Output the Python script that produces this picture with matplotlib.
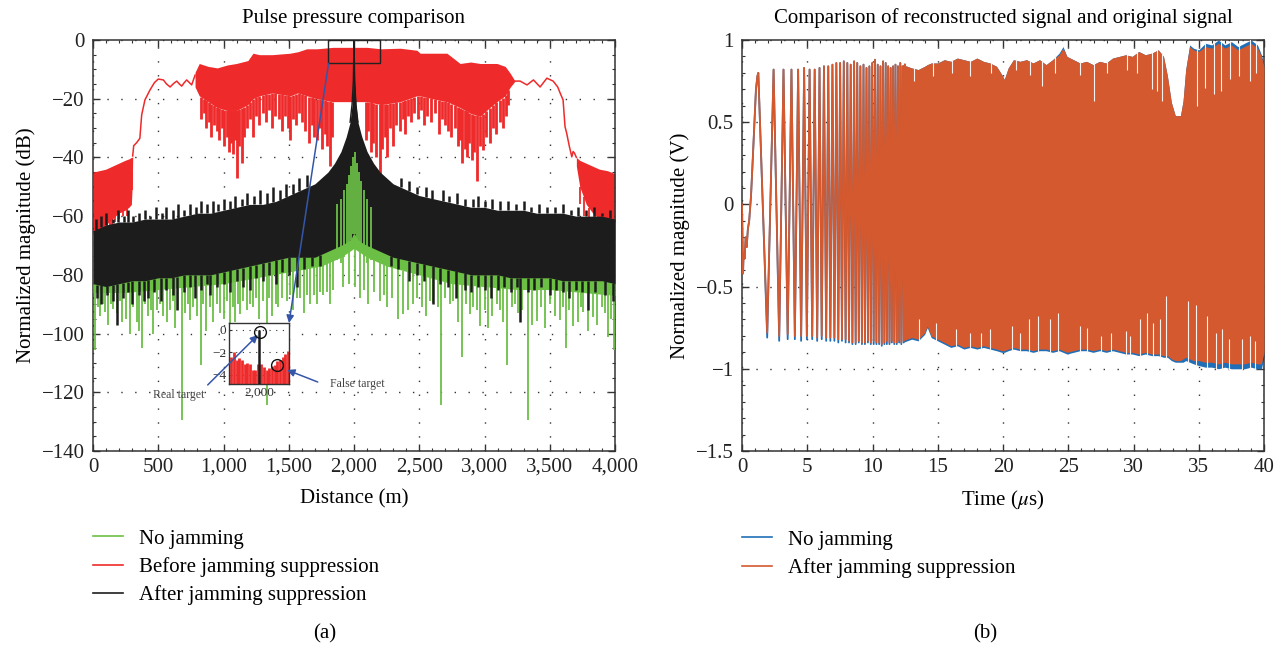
import numpy as np
import matplotlib
matplotlib.use("Agg")
import matplotlib.pyplot as plt
from matplotlib.lines import Line2D
from matplotlib.patches import Rectangle
from matplotlib.ticker import MultipleLocator, FuncFormatter

plt.rcParams['font.family'] = ['Liberation Serif', 'DejaVu Serif']
plt.rcParams['mathtext.fontset'] = 'stix'
plt.rcParams['font.size'] = 15

GREEN = '#6cbf45'
RED = '#ee2a2a'
BLACK = '#1c1c1c'
BLUE = '#1f6fb8'
ORANGE = '#d4592e'
ARROW = '#3556a8'
FRAME = '#333333'

# ---------------- (a) pulse compression, distance in m, magnitude in dB
# before suppression: left skirt band, rising edge, main band, falling edge, right skirt band
red_left_x = [0, 49, 98, 147, 196, 245, 275, 294, 300, 304]
red_left_hi = [-45, -44.5, -44, -43, -42, -41, -40.5, -40, -40, -39.5]
red_left_lo = [-65, -64, -63, -61, -59, -58, -57, -56, -50, -41]
red_left_dn_x = [12, 20, 39, 55, 69, 88, 108, 128, 147, 170, 200, 230, 260, 299]
red_left_dn_y = [-72, -78, -70, -69, -68, -67, -66, -65, -63, -62, -61, -60, -60, -45]

red_rise_x = [304, 312, 334, 359, 373, 398, 437, 471, 500, 539, 564, 591, 618, 642,
              662, 680, 698, 718, 738, 756, 782]
red_rise_y = [-39.5, -36, -35, -33.5, -25.5, -20.4, -17, -14.5, -13.3, -13.6, -15, -16,
              -14.8, -14, -15, -15.7, -14.6, -13.6, -14.5, -15.3, -12]

red_x = [782, 814, 883, 952, 1030, 1099, 1187, 1226, 1275, 1373, 1511, 1570, 1638, 1717,
         1839, 1962, 2099, 2207, 2354, 2482, 2507, 2600, 2712, 2813, 2894, 2966, 3041,
         3095, 3159, 3198, 3234]
red_hi = [-11, -8, -9, -9.5, -8.5, -8, -7, -4.5, -5, -5, -4.5, -4, -3, -3, -2.5, -2.5,
          -2.5, -3, -2.8, -3.5, -4.5, -4.5, -4.5, -8, -7.5, -8, -8, -8, -9, -11.4, -14]
red_lo = [-16, -19, -21, -23, -24, -24, -22, -20, -19, -18, -19, -18, -19, -20, -21, -21,
          -21, -22, -21, -19, -19, -20, -21, -23, -25, -26, -23, -21, -19, -16, -14]
red_dn_x = [828, 848, 868, 888, 907, 927, 947, 966, 986, 1006, 1025, 1040, 1055, 1069,
            1089, 1104, 1118, 1138, 1158, 1177, 1202, 1226, 1251, 1275, 1300, 1324, 1349,
            1373, 1398, 1422, 1447, 1471, 1496, 1511, 1530, 1555, 1579, 1604, 1628, 1658,
            1677, 1697, 1717, 1736, 1756, 1776, 1795, 1815, 1835, 2090, 2109, 2129, 2148,
            2168, 2199, 2217, 2236, 2256, 2276, 2300, 2325, 2349, 2374, 2391, 2413, 2438,
            2462, 2487, 2511, 2536, 2560, 2590, 2619, 2649, 2673, 2698, 2722, 2747, 2771,
            2796, 2815, 2828, 2850, 2865, 2884, 2904, 2923, 2943, 2963, 2989, 3012, 3041,
            3066, 3090, 3115, 3139, 3164, 3183]
red_dn_y = [-27, -25, -30, -28, -33, -29, -31, -34, -30, -36, -33, -38, -35, -39, -34, -47,
            -36, -42, -33, -30, -27, -33, -26, -29, -25, -28, -24, -30, -26, -27, -31, -26,
            -30, -34, -27, -29, -25, -28, -31, -35, -29, -33, -34, -30, -37, -32, -36, -43,
            -33, -34, -31, -38, -35, -40, -46.5, -37, -33, -40, -30, -36, -29, -31, -27,
            -32, -26, -28, -25, -27, -24, -29, -26, -28, -25, -32, -27, -29, -31, -33, -30,
            -36, -34, -42, -37, -40, -35, -41, -38, -48, -36, -37.5, -33, -35, -30, -32,
            -28, -30, -26, -22]

red_fall_x = [3234, 3273, 3326, 3375, 3426, 3478, 3526, 3561, 3579, 3602, 3617, 3630, 3649,
              3669, 3679, 3689, 3704]
red_fall_y = [-14, -14, -15.3, -13.6, -16, -13, -14, -16, -18, -20.4, -29.5, -31.8, -36,
              -39.8, -38, -38.5, -40]

red_right_x = [3704, 3730, 3780, 3830, 3880, 3940, 4000]
red_right_hi = [-40, -41, -42, -43, -44, -44.5, -45.5]
red_right_lo = [-43, -50, -56, -59, -61, -63, -68]
red_right_dn_x = [3730, 3760, 3800, 3850, 3900, 3960, 3990]
red_right_dn_y = [-56, -60, -64, -65, -66, -70, -72]

# no jamming
green_x = [0, 250, 500, 750, 1000, 1250, 1500, 1750, 1900, 2000, 2100, 2250, 2500, 2750,
           3000, 3250, 3500, 3750, 4000]
green_hi = [-66, -63, -62, -61, -59, -57, -54, -48, -42, -40, -42, -48, -54, -56, -58, -59,
            -60, -61, -62]
green_lo = [-86, -86, -85, -84, -83, -81, -79, -77, -74, -71, -74, -77, -80, -83, -84, -85,
            -85, -86, -87]
green_dn_x = [16, 35, 54, 75, 92, 118, 140, 156, 186, 205, 220, 255, 284, 310, 335, 353, 378,
              400, 424, 445, 462, 491, 515, 539, 569, 591, 610, 628, 655, 680, 706, 725, 744,
              770, 795, 825, 845, 863, 900, 922, 950, 973, 1001, 1025, 1050, 1070, 1089,
              1110, 1126, 1150, 1177, 1200, 1229, 1250, 1275, 1300, 1331, 1350, 1373, 1400,
              1420, 1450, 1484, 1510, 1530, 1560, 1586, 1619, 1640, 1663, 1690, 1717, 1740,
              1766, 1790, 1815, 1840, 1913, 1960, 2011, 2046, 2080, 2109, 2150, 2199, 2230,
              2256, 2290, 2335, 2378, 2413, 2455, 2481, 2520, 2551, 2580, 2608, 2640, 2667,
              2700, 2736, 2760, 2796, 2830, 2860, 2889, 2915, 2943, 2966, 3000, 3029, 3061,
              3094, 3120, 3139, 3175, 3210, 3234, 3260, 3286, 3331, 3365, 3400, 3430, 3463,
              3502, 3541, 3579, 3600, 3623, 3650, 3681, 3718, 3740, 3758, 3796, 3835, 3865,
              3900, 3925, 3946, 3970, 3990]
green_dn_y = [-105.6, -91, -94, -90, -92.5, -97, -90, -91.5, -93, -89,
              -96, -95, -100, -91, -96, -99, -105, -90, -94, -92,
              -100, -92, -90, -94, -96, -92, -89, -98, -92, -129.5,
              -93, -90, -95.5, -91, -94, -110.7, -90, -99, -91, -96,
              -90, -93, -95, -89, -97.5, -91, -96, -90, -93.5, -89,
              -92, -90, -91, -88, -95, -89, -124.3, -88, -94, -90,
              -91, -88, -89, -87, -92, -88, -88, -93, -87, -90,
              -87, -90, -86, -87, -86, -90, -85, -84, -83, -84,
              -88, -85, -90, -86, -89, -87, -91, -88, -95, -93.4,
              -92, -90, -88, -91, -94, -89, -89.7, -91, -124.3, -88,
              -90, -89, -96, -108, -90, -93.4, -91, -92, -97.5, -92,
              -98, -94, -90, -92, -96, -110.7, -91, -90, -93, -92,
              -129.4, -97, -95.7, -91, -98, -90, -94, -95.4, -91, -104.8,
              -92, -97.5, -96, -91, -92.5, -99, -94.2, -97, -91, -93,
              -101, -95, -105.6]
green_ctr_x = [1870, 1900, 1925, 1950, 1965, 1980, 1990, 2010, 2020, 2035, 2050, 2075, 2100,
               2130]
green_ctr_top = [-56, -54, -51, -49, -46, -43, -40, -38, -42, -45, -48, -51, -54, -57]
green_ctr_bot = [-75, -76, -74, -72, -70, -68, -66, -66, -68, -70, -72, -74, -76, -75]

# after suppression
black_x = [0, 100, 200, 300, 400, 500, 600, 700, 800, 900, 1000, 1100, 1200, 1300, 1400,
           1500, 1600, 1700, 1750, 1800, 1850, 1900, 1940, 1970, 1985, 1995, 2000, 2005,
           2015, 2030, 2060, 2100, 2150, 2200, 2250, 2300, 2400, 2500, 2600, 2700, 2800,
           2900, 3000, 3100, 3200, 3300, 3400, 3500, 3600, 3700, 3800, 3900, 4000]
black_hi = [-65, -63, -62, -62, -61, -61, -61, -60, -59, -59, -58, -57, -56, -56, -55, -53,
            -51, -49, -47, -45, -42, -38, -33, -28, -22, -14, 0, -14, -22, -28, -33, -38,
            -42, -45, -47, -49, -51, -53, -54, -55, -56, -57, -57, -58, -58, -58, -59, -59,
            -59, -60, -60, -60, -61]
black_lo = [-83, -84, -83, -82, -82, -81, -81, -80, -80, -80, -79, -78, -77, -76, -75, -74,
            -74, -74, -73, -72, -71, -70, -69, -68, -67, -66, -66, -66, -67, -68, -69, -70,
            -71, -72, -73, -74, -75, -76, -77, -78, -79, -80, -80, -80, -81, -81, -81, -81,
            -82, -82, -82, -82, -83]
black_up_x = [20, 60, 100, 150, 190, 240, 265, 310, 350, 400, 440, 480, 530, 560, 610, 650,
              700, 740, 790, 830, 870, 920, 960, 1000, 1050, 1090, 1140, 1180, 1230, 1280,
              1330, 1380, 1430, 1480, 1530, 1580, 1640, 2360, 2420, 2480, 2550, 2600, 2680,
              2730, 2790, 2850, 2910, 2950, 3000, 3060, 3120, 3180, 3240, 3300, 3360, 3420,
              3480, 3540, 3600, 3660, 3720, 3780, 3840, 3900, 3960]
black_up_y = [-61, -60, -59, -61, -58, -60, -58, -60, -59, -58, -60, -57, -59, -57, -58, -56,
              -58, -56, -57, -55, -56, -55, -56, -54, -55, -53, -54, -52, -53, -51, -52, -50,
              -51, -49, -49, -47, -46, -47, -48, -50, -50, -51, -51, -53, -52, -54, -54, -53,
              -55, -54, -55, -55, -56, -55, -57, -56, -57, -57, -56, -58, -57, -58, -57, -59,
              -58]
black_dn_x = [30, 60, 110, 150, 181, 230, 270, 300, 350, 390, 420, 470, 520, 560, 610, 642,
              700, 740, 780, 830, 870, 900, 950, 1000, 1050, 1100, 1150, 1200, 1250, 1300,
              1350, 1400, 1450, 1500, 1560, 1620, 1680, 1740, 2280, 2340, 2420, 2480, 2540,
              2608, 2660, 2720, 2780, 2850, 2900, 2950, 3000, 3049, 3100, 3150, 3200, 3250,
              3273, 3330, 3380, 3430, 3500, 3550, 3600, 3650, 3700, 3750, 3796, 3850, 3920,
              3985]
black_dn_y = [-88, -90, -87, -89, -97, -88, -86, -90, -87, -89, -88, -86, -89, -85, -87, -92,
              -86, -84, -88, -85, -83, -87, -84, -83, -86, -82, -84, -85, -81, -82, -80, -83,
              -79, -80, -84, -78, -77, -77, -77, -78, -82, -80, -82, -90, -83, -84, -88, -85,
              -86, -84, -85, -88, -85, -84, -86, -84, -96, -86, -85, -84, -87, -85, -86, -88,
              -85, -86, -92, -86, -87, -89]

# zoomed view around the target
inset_x = [1813, 1833, 1851, 1869, 1887, 1904, 1922, 1940, 1958, 1976, 1993, 2016, 2033,
           2051, 2069, 2087, 2104, 2122, 2140, 2158, 2176, 2193]
inset_v = [-2.4, -2.0, -2.7, -2.5, -2.7, -3.0, -2.9, -3.0, -3.55, -3.55, -3.0, -3.0, -3.3,
           -3.55, -3.4, -3.2, -3.1, -2.8, -2.7, -2.4, -2.1, -1.9]
inset_peak_x = [2000]
inset_peak_v = [0]
target_x = [2007, 2118]
target_v = [-0.17, -3.12]

# ---------------- (b) time signal, t in us, amplitude in V
start_t = [0.0, 0.08, 0.12, 0.2, 0.28, 0.36, 0.45, 0.55, 0.69, 0.81, 1.07, 1.18]
start_v = [0.0, -0.42, -0.3, -0.33, -0.2, -0.26, -0.15, -0.1, 0.05, 0.25, 0.7, 0.78]
peak_t = [1.25, 2.42, 3.18, 3.79, 4.30, 4.76, 5.18, 5.57, 5.94, 6.28, 6.61, 6.93, 7.23,
          7.52, 7.80, 8.07, 8.33, 8.59, 8.83, 9.07, 9.31, 9.54, 9.76, 9.98, 10.19, 10.40,
          10.61, 10.81, 11.01, 11.20, 11.39, 11.58, 11.76, 11.95, 12.13, 12.30, 12.48]
peak_v = [0.80, 0.82, 0.82, 0.82, 0.82, 0.83, 0.82, 0.82, 0.83, 0.84, 0.84, 0.85, 0.86,
          0.86, 0.87, 0.86, 0.85, 0.87, 0.86, 0.84, 0.85, 0.83, 0.84, 0.86, 0.88, 0.85,
          0.84, 0.87, 0.86, 0.84, 0.83, 0.84, 0.85, 0.84, 0.86, 0.84, 0.85]
trough_t = [1.93, 2.85, 3.50, 4.05, 4.53, 4.97, 5.38, 5.76, 6.11, 6.45, 6.77, 7.08, 7.38,
            7.66, 7.94, 8.20, 8.46, 8.71, 8.95, 9.19, 9.42, 9.65, 9.87, 10.09, 10.30,
            10.51, 10.71, 10.91, 11.10, 11.30, 11.48, 11.67, 11.86, 12.04, 12.21, 12.39]
trough_v = [-0.78, -0.80, -0.79, -0.80, -0.80, -0.80, -0.80, -0.81, -0.80, -0.81, -0.81,
            -0.81, -0.82, -0.82, -0.82, -0.83, -0.84, -0.84, -0.83, -0.84, -0.84, -0.83,
            -0.84, -0.83, -0.84, -0.84, -0.85, -0.84, -0.83, -0.84, -0.83, -0.84, -0.84,
            -0.83, -0.84, -0.83]
blue_trough_v = [-0.81, -0.83, -0.82, -0.82, -0.83, -0.82, -0.82, -0.83, -0.82, -0.83,
                 -0.83, -0.83, -0.84, -0.83, -0.84, -0.84, -0.85, -0.85, -0.84, -0.85,
                 -0.85, -0.84, -0.85, -0.85, -0.85, -0.85, -0.86, -0.85, -0.85, -0.85,
                 -0.84, -0.85, -0.85, -0.84, -0.85, -0.84]

env_t = [12.3, 13.0, 13.5, 14.0, 14.2, 14.5, 15.0, 15.5, 16.0, 16.5,
         17.0, 17.5, 18.0, 18.5, 19.0, 19.5, 19.9, 20.1, 20.4, 20.8,
         21.3, 21.8, 22.3, 22.8, 23.3, 23.8, 24.3, 24.6, 24.9, 25.4,
         25.9, 26.4, 26.9, 27.4, 27.9, 28.4, 28.9, 29.4, 29.9, 30.4,
         30.9, 31.4, 31.9, 32.3, 32.6, 32.9, 33.2, 33.6, 33.8, 34.0,
         34.3, 34.6, 35.0, 35.5, 36.0, 36.5, 37.0, 37.5, 38.0, 38.5,
         39.0, 39.5, 39.8, 40.0]
orange_hi = [0.85, 0.83, 0.82, 0.84, 0.85, 0.86, 0.86, 0.88, 0.87, 0.89,
             0.88, 0.87, 0.89, 0.87, 0.86, 0.84, 0.79, 0.76, 0.83, 0.88,
             0.87, 0.88, 0.86, 0.88, 0.85, 0.88, 0.91, 0.95, 0.90, 0.88,
             0.86, 0.87, 0.85, 0.87, 0.86, 0.89, 0.90, 0.91, 0.90, 0.93,
             0.91, 0.92, 0.94, 0.90, 0.78, 0.62, 0.54, 0.54, 0.63, 0.82,
             0.96, 0.94, 0.93, 0.96, 0.95, 0.98, 0.95, 0.97, 0.94, 0.96,
             0.98, 0.95, 0.90, 0.84]
orange_lo = [-0.83, -0.81, -0.82, -0.78, -0.74, -0.80, -0.82, -0.84, -0.86, -0.85,
             -0.87, -0.86, -0.87, -0.86, -0.87, -0.88, -0.89, -0.89, -0.88, -0.87,
             -0.88, -0.88, -0.89, -0.88, -0.88, -0.89, -0.88, -0.89, -0.90, -0.89,
             -0.88, -0.88, -0.89, -0.88, -0.89, -0.88, -0.89, -0.90, -0.90, -0.91,
             -0.90, -0.91, -0.91, -0.92, -0.92, -0.94, -0.95, -0.95, -0.94, -0.93,
             -0.94, -0.95, -0.95, -0.96, -0.96, -0.97, -0.96, -0.97, -0.97, -0.97,
             -0.96, -0.97, -0.97, -0.90]
blue_hi = [0.85, 0.83, 0.82, 0.84, 0.85, 0.86, 0.86, 0.88, 0.87, 0.89,
           0.88, 0.87, 0.89, 0.87, 0.86, 0.84, 0.79, 0.76, 0.83, 0.88,
           0.87, 0.88, 0.86, 0.88, 0.85, 0.88, 0.92, 0.96, 0.90, 0.88,
           0.86, 0.87, 0.85, 0.87, 0.86, 0.89, 0.90, 0.91, 0.90, 0.93,
           0.91, 0.92, 0.94, 0.90, 0.78, 0.62, 0.54, 0.54, 0.63, 0.82,
           0.97, 0.95, 0.94, 0.98, 0.97, 1.00, 0.97, 0.99, 0.96, 0.98,
           1.00, 0.97, 0.91, 0.85]
blue_lo = [-0.84, -0.82, -0.83, -0.79, -0.75, -0.81, -0.83, -0.85, -0.87, -0.86,
           -0.88, -0.87, -0.88, -0.87, -0.88, -0.89, -0.90, -0.90, -0.89, -0.88,
           -0.89, -0.89, -0.90, -0.89, -0.89, -0.90, -0.89, -0.90, -0.91, -0.90,
           -0.89, -0.89, -0.90, -0.89, -0.90, -0.89, -0.90, -0.91, -0.91, -0.92,
           -0.91, -0.92, -0.92, -0.93, -0.93, -0.95, -0.96, -0.96, -0.96, -0.95,
           -0.96, -0.97, -0.98, -0.99, -0.99, -1.00, -0.99, -1.00, -1.00, -1.00,
           -0.99, -1.00, -1.00, -0.93]
# gaps between neighbouring strokes at the upper and lower edges
top_gap_t = [13.2, 14.6, 16.1, 17.5, 19.1, 21.0, 22.1, 23.0, 24.0, 25.9, 27.0, 28.0, 29.5,
             30.3, 31.4, 31.8, 32.2, 34.9, 35.5, 36.2, 36.7, 37.4, 38.1, 38.9, 39.4]
top_gap_v = [0.75, 0.78, 0.80, 0.78, 0.80, 0.82, 0.79, 0.72, 0.80, 0.79, 0.63, 0.80, 0.82,
             0.80, 0.70, 0.69, 0.63, 0.60, 0.71, 0.67, 0.69, 0.76, 0.78, 0.75, 0.80]
bot_gap_t = [13.6, 14.9, 16.4, 17.5, 18.3, 19.0, 20.7, 21.3, 22.0, 22.7, 23.6, 24.2, 25.9,
             26.4, 27.5, 28.3, 29.4, 29.7, 30.5, 31.0, 31.5, 32.0, 32.5, 34.2, 34.8, 35.6,
             36.3, 36.8, 37.3, 38.3, 38.9, 39.3]
bot_gap_v = [-0.70, -0.72, -0.76, -0.78, -0.78, -0.76, -0.74, -0.78, -0.70, -0.68, -0.70,
             -0.66, -0.74, -0.75, -0.80, -0.78, -0.77, -0.80, -0.70, -0.66, -0.72, -0.70,
             -0.56, -0.59, -0.61, -0.68, -0.78, -0.76, -0.82, -0.82, -0.80, -0.83]


def minus(s):
    return s.replace('-', '\u2212')


def style_axes(ax, xmaj, xmin, ymaj, ymin):
    ax.xaxis.set_major_locator(MultipleLocator(xmaj))
    ax.xaxis.set_minor_locator(MultipleLocator(xmin))
    ax.yaxis.set_major_locator(MultipleLocator(ymaj))
    ax.yaxis.set_minor_locator(MultipleLocator(ymin))
    ax.tick_params(which='both', direction='in', top=True, right=True, colors=FRAME,
                   labelcolor='#222222')
    ax.tick_params(which='major', length=5, width=1.0)
    ax.tick_params(which='minor', length=2.5, width=0.8)
    ax.tick_params(axis='y', pad=6)
    ax.tick_params(axis='x', pad=5)
    ax.grid(True, which='major', linestyle=(0, (1, 9)), color='#333333', linewidth=1.0)
    ax.set_axisbelow(True)
    for s in ax.spines.values():
        s.set_color(FRAME)
        s.set_linewidth(1.1)


fig = plt.figure(figsize=(12.86, 6.5), dpi=100)
ax1 = fig.add_axes([93 / 1286, 1 - 451 / 650, 522 / 1286, 411 / 650])
ax2 = fig.add_axes([742 / 1286, 1 - 451 / 650, 522 / 1286, 411 / 650])

# ---- panel (a)
ax1.fill_between(red_left_x, red_left_lo, red_left_hi, color=RED, lw=0, zorder=2)
ax1.vlines(red_left_dn_x, red_left_dn_y, np.interp(red_left_dn_x, red_left_x, red_left_lo),
           color=RED, lw=1.3, zorder=2)
ax1.plot(red_rise_x, red_rise_y, color=RED, lw=1.1, zorder=2)
ax1.fill_between(red_x, red_lo, red_hi, color=RED, lw=0, zorder=2)
ax1.vlines(red_dn_x, red_dn_y, np.interp(red_dn_x, red_x, red_lo), color=RED, lw=2.0, zorder=2)
ax1.plot(red_fall_x, red_fall_y, color=RED, lw=1.1, zorder=2)
ax1.fill_between(red_right_x, red_right_lo, red_right_hi, color=RED, lw=0, zorder=2)
ax1.vlines(red_right_dn_x, red_right_dn_y,
           np.interp(red_right_dn_x, red_right_x, red_right_lo), color=RED, lw=1.3, zorder=2)

ax1.fill_between(green_x, green_lo, green_hi, color=GREEN, lw=0, zorder=3)
ax1.vlines(green_dn_x, green_dn_y, np.interp(green_dn_x, green_x, green_lo),
           color=GREEN, lw=1.3, zorder=3)

ax1.fill_between(black_x, black_lo, black_hi, color=BLACK, lw=0, zorder=4)
ax1.vlines(black_up_x, np.interp(black_up_x, black_x, black_hi), black_up_y,
           color=BLACK, lw=1.8, zorder=4)
ax1.vlines(black_dn_x, black_dn_y, np.interp(black_dn_x, black_x, black_lo),
           color=BLACK, lw=1.8, zorder=4)

ax1.vlines(green_ctr_x, green_ctr_bot, green_ctr_top, color=GREEN, lw=1.3, zorder=5)
bx = np.array(black_x)
near = np.abs(bx - 2000) <= 30
ax1.plot(bx[near], np.array(black_hi)[near], color=BLACK, lw=1.0, zorder=6)

ax1.add_patch(Rectangle((1800, -8), 400, 8, fill=False, ec='#222222', lw=1.0, zorder=7,
                        clip_on=False))

ax1.set_xlim(0, 4000)
ax1.set_ylim(-140, 0)
style_axes(ax1, 500, 100, 20, 5)
ax1.xaxis.set_major_formatter(FuncFormatter(lambda v, p: '{:,}'.format(int(v))))
ax1.yaxis.set_major_formatter(FuncFormatter(lambda v, p: minus('%d' % v)))
ax1.set_title('Pulse pressure comparison', fontsize=15, pad=12)
ax1.set_xlabel('Distance (m)', labelpad=9)
ax1.set_ylabel('Normalized magnitude (dB)', labelpad=4)

ax1.text(457, -121, 'Real target', fontsize=8.5, color='#444444', va='center', zorder=8)
ax1.text(1813, -117.2, 'False target', fontsize=8.5, color='#444444', va='center', zorder=8)

# zoomed view
ax_in = fig.add_axes([229 / 1286, 1 - 384 / 650, 60 / 1286, 61 / 650])
ax_in.vlines(inset_x, -4.8, inset_v, color=RED, lw=2.0, zorder=2)
ax_in.vlines(inset_peak_x, -4.8, inset_peak_v, color=BLACK, lw=1.8, zorder=3)
ax_in.plot(target_x, target_v, 'o', ms=8.5, mfc='none', mec='#111111', mew=1.0, ls='none',
           clip_on=False, zorder=5)
ax_in.set_xlim(1800, 2200)
ax_in.set_ylim(-4.8, 0.6)
ax_in.set_xticks([2000])
ax_in.set_xticklabels(['2,000'])
ax_in.set_yticks([-4, -2, 0])
ax_in.set_yticklabels([minus('-4'), minus('-2'), '0'])
ax_in.tick_params(direction='in', length=2, pad=2, labelsize=9.5, colors=FRAME,
                  labelcolor='#333333')
ax_in.grid(True, linestyle=(0, (1, 5)), color='#333333', linewidth=0.8)
ax_in.set_axisbelow(True)
for s in ax_in.spines.values():
    s.set_color(FRAME)
    s.set_linewidth(1.0)

arrow = dict(arrowstyle='-|>', color=ARROW, lw=1.1, shrinkA=0, shrinkB=0, mutation_scale=11)
ax_in.annotate('', xy=(1, 1), xycoords='axes fraction', xytext=(1805, -8),
               textcoords=ax1.transData, arrowprops=arrow, annotation_clip=False)
ax_in.annotate('', xy=(1993, -0.46), xycoords='data', xytext=(879, -117.5),
               textcoords=ax1.transData, arrowprops=arrow, annotation_clip=False)
ax_in.annotate('', xy=(2187, -3.56), xycoords='data', xytext=(1722, -116.5),
               textcoords=ax1.transData, arrowprops=arrow, annotation_clip=False)

# ---- panel (b)
zz_t = np.array(start_t + peak_t + trough_t)
order = np.argsort(zz_t)
orange_zz = np.array(start_v + peak_v + trough_v)[order]
blue_zz = np.array(start_v + peak_v + blue_trough_v)[order]
zz_t = zz_t[order]

ax2.plot(zz_t, blue_zz, color=BLUE, lw=1.3, zorder=2)
ax2.fill_between(env_t, blue_lo, blue_hi, color=BLUE, lw=0, zorder=2)
ax2.plot(zz_t, orange_zz, color=ORANGE, lw=1.3, zorder=3)
ax2.fill_between(env_t, orange_lo, orange_hi, color=ORANGE, lw=0, zorder=3)
ax2.vlines(top_gap_t, top_gap_v, np.interp(top_gap_t, env_t, blue_hi) + 0.01,
           color='#fbf3ef', lw=0.8, zorder=4)
ax2.vlines(bot_gap_t, np.interp(bot_gap_t, env_t, blue_lo) - 0.01, bot_gap_v,
           color='#fbf3ef', lw=0.8, zorder=4)

ax2.set_xlim(0, 40)
ax2.set_ylim(-1.5, 1)
style_axes(ax2, 5, 1, 0.5, 0.1)
ax2.yaxis.set_major_formatter(FuncFormatter(lambda v, p: minus('%g' % v)))
ax2.set_title('Comparison of reconstructed signal and original signal', fontsize=15, pad=12)
ax2.set_xlabel(r'Time ($\mu$s)', labelpad=9)
ax2.set_ylabel('Normalized magnitude (V)', labelpad=4)

# legends below the panels
h1 = [Line2D([], [], color=GREEN, lw=1.2), Line2D([], [], color=RED, lw=1.2),
      Line2D([], [], color=BLACK, lw=1.2)]
fig.legend(h1, ['No jamming', 'Before jamming suppression', 'After jamming suppression'],
           loc='upper left', bbox_to_anchor=(93 / 1286, 1 - 529 / 650), frameon=False,
           handlelength=1.45, handletextpad=0.75, labelspacing=0.4, borderpad=0,
           borderaxespad=0, fontsize=15)
h2 = [Line2D([], [], color=BLUE, lw=1.2), Line2D([], [], color=ORANGE, lw=1.2)]
fig.legend(h2, ['No jamming', 'After jamming suppression'],
           loc='upper left', bbox_to_anchor=(742 / 1286, 1 - 530 / 650), frameon=False,
           handlelength=1.45, handletextpad=0.75, labelspacing=0.4, borderpad=0,
           borderaxespad=0, fontsize=15)

fig.text(325 / 1286, 1 - 634 / 650, '(a)', ha='center', va='center', fontsize=15)
fig.text(985 / 1286, 1 - 634 / 650, '(b)', ha='center', va='center', fontsize=15)

fig.savefig('out.png', dpi=100)
